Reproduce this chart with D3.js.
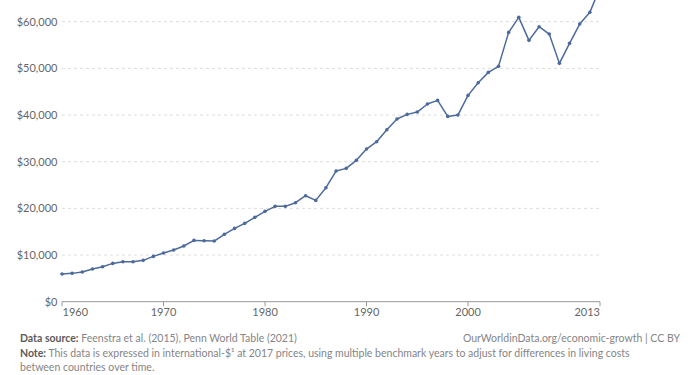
<!DOCTYPE html>
<html>
<head>
<meta charset="utf-8">
<script src="https://cdn.jsdelivr.net/npm/d3@7"></script>
<style>
  body { margin: 0; background: #fff; }
  svg { display: block; font-family: Lato, "Noto Sans", sans-serif; }
</style>
</head>
<body>
<div id="vis"></div>
<script>
// GDP per capita, international-$ at 2017 prices
const years = [1960, 1961, 1962, 1963, 1964, 1965, 1966, 1967, 1968, 1969,
  1970, 1971, 1972, 1973, 1974, 1975, 1976, 1977, 1978, 1979,
  1980, 1981, 1982, 1983, 1984, 1985, 1986, 1987, 1988, 1989,
  1990, 1991, 1992, 1993, 1994, 1995, 1996, 1997, 1998, 1999,
  2000, 2001, 2002, 2003, 2004, 2005, 2006, 2007, 2008, 2009,
  2010, 2011, 2012, 2013];
const gdp = [5930, 6070, 6360, 7000, 7500, 8210, 8570, 8570, 8860, 9710,
  10430, 11070, 11930, 13140, 13070, 13000, 14430, 15710, 16790, 18070,
  19360, 20430, 20430, 21210, 22710, 21710, 24430, 28000, 28570, 30300,
  32710, 34290, 36860, 39140, 40140, 40640, 42360, 43140, 39710, 40000,
  44210, 46930, 49140, 50430, 57710, 60930, 56000, 58930, 57360, 51070,
  55360, 59500, 62000, 67300];

const xTicks = [1960, 1970, 1980, 1990, 2000, 2013];
const yTicks = [0, 10000, 20000, 30000, 40000, 50000, 60000];

const sourceLabel = "Data source:";
const sourceText = " Feenstra et al. (2015), Penn World Table (2021)";
const urlText = "OurWorldinData.org/economic-growth | CC BY";
const noteLabel = "Note:";
const noteLines = [" This data is expressed in international-$\u00B9 at 2017 prices, using multiple benchmark years to adjust for differences in living costs",
  "between countries over time."];

const width = 692;
const height = 375;

const svg = d3.select('#vis').append("svg")
    .attr("width", width)
    .attr("height", height);

const data = years.map((y, i) => ({year: y, value: gdp[i]}));

const x = d3.scaleLinear().domain([1960, 2013]).range([62, 600]);
const y = d3.scaleLinear().domain([0, 60000]).range([301.7, 21.7]);

// grid lines
svg.append("g")
    .selectAll("line")
    .data(yTicks.filter(d => d > 0))
    .join("line")
    .attr("x1", 62)
    .attr("x2", 600)
    .attr("y1", d => y(d))
    .attr("y2", d => y(d))
    .attr("stroke", "#dddddd")
    .attr("stroke-dasharray", "3,3");

// y labels
svg.append("g")
    .selectAll("text")
    .data(yTicks)
    .join("text")
    .attr("x", 57.5)
    .attr("y", d => y(d))
    .attr("dy", "0.35em")
    .attr("text-anchor", "end")
    .attr("font-size", 11)
    .attr("fill", "#666")
    .text(d => "$" + d3.format(",")(d));

// x axis
svg.append("line")
    .attr("x1", 62).attr("x2", 600)
    .attr("y1", y(0)).attr("y2", y(0))
    .attr("stroke", "#999");

const xg = svg.append("g")
    .selectAll("g")
    .data(xTicks)
    .join("g")
    .attr("transform", d => `translate(${x(d)},${y(0)})`);

xg.append("line")
    .attr("y2", 4.5)
    .attr("stroke", "#999");

xg.append("text")
    .attr("y", 14.8)
    .attr("text-anchor", (d, i) => i == 0 ? "start" : (i == xTicks.length - 1 ? "end" : "middle"))
    .attr("dx", (d, i) => i == 0 ? 0.5 : 0)
    .attr("font-size", 11)
    .attr("fill", "#666")
    .text(d => d);

// line + markers
const color = "#4c6a9c";

svg.append("path")
    .datum(data)
    .attr("fill", "none")
    .attr("stroke", color)
    .attr("stroke-width", 1.5)
    .attr("stroke-linejoin", "round")
    .attr("d", d3.line().x(d => x(d.year)).y(d => y(d.value)));

svg.append("g")
    .selectAll("circle")
    .data(data)
    .join("circle")
    .attr("cx", d => x(d.year))
    .attr("cy", d => y(d.value))
    .attr("r", 1.8)
    .attr("fill", color);

// footer
const src = svg.append("text")
    .attr("x", 20).attr("y", 342)
    .attr("font-size", 10.5)
    .attr("fill", "#858585");
src.append("tspan").attr("font-weight", "bold").attr("fill", "#5b5b5b").text(sourceLabel);
src.append("tspan").text(sourceText);

svg.append("text")
    .attr("x", 680).attr("y", 342)
    .attr("text-anchor", "end")
    .attr("font-size", 10.5)
    .attr("fill", "#858585")
    .text(urlText);

const note = svg.append("text")
    .attr("x", 20).attr("y", 357)
    .attr("font-size", 10.5)
    .attr("fill", "#858585");
note.append("tspan").attr("font-weight", "bold").attr("fill", "#5b5b5b").text(noteLabel);
note.append("tspan").text(noteLines[0]);

svg.append("text")
    .attr("x", 20).attr("y", 370.5)
    .attr("font-size", 10.5)
    .attr("fill", "#858585")
    .text(noteLines[1]);
</script>
</body>
</html>
